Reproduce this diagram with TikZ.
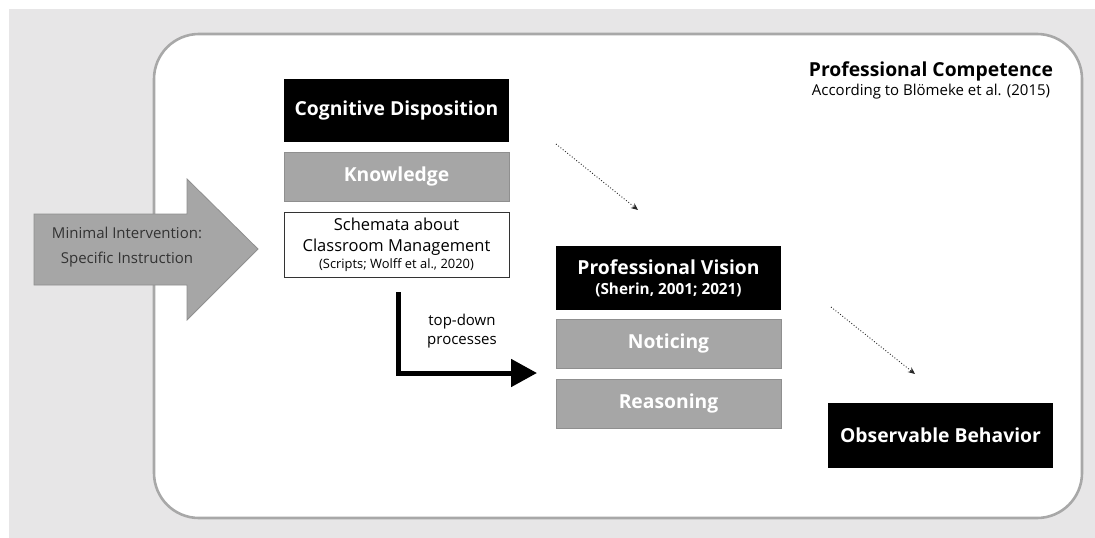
\documentclass[tikz,border=0pt]{standalone}
\usepackage{fontspec}
\setmainfont{Open Sans}
\usetikzlibrary{arrows.meta}
\definecolor{pagegray}{HTML}{E7E6E7}
\definecolor{framegray}{HTML}{A8A8A8}
\definecolor{boxgray}{HTML}{A6A6A6}
\definecolor{boxedge}{HTML}{8F8F8F}
\tikzset{
  boldtext/.style={font=\bfseries\fontsize{19.3}{22}\selectfont},
  plaintext/.style={font=\fontsize{15}{24}\selectfont},
  darkbox/.style={boldtext, draw=none, fill=black, text=white,
    minimum width=225pt, align=center, inner sep=0pt},
  graybox/.style={boldtext, draw=boxedge, line width=0.8pt, fill=boxgray, text=white,
    minimum width=225pt, minimum height=49pt, inner sep=0pt},
  plainbox/.style={draw=black!80, line width=0.8pt, fill=white, minimum width=225pt,
    minimum height=65pt, align=center, inner sep=0pt},
  dotlink/.style={dotted, line width=0.9pt, black!85, -{Stealth[length=7pt, width=6pt]}},
}
\begin{document}
\begin{tikzpicture}[x=1pt, y=-1pt]
\useasboundingbox (0,0) rectangle (1095,538);
% backdrop and rounded frame
\fill[pagegray] (9,9) rectangle (1095,538);
\draw[framegray, line width=2.6pt, fill=white, rounded corners=45pt] (154,34) rectangle (1082,518);

% title
\node[boldtext] (title) at (931,71) {Professional Competence};
\node[font=\fontsize{15}{18}\selectfont] (subtitle) at (931,92) {According to Blömeke et al. (2015)};

% intervention block arrow
\draw[boxedge, line width=0.8pt, fill=boxgray]
  (34,214) -- (187,214) -- (187,179) -- (258,249) -- (187,320) -- (187,285) -- (34,285) -- cycle;
\node[plaintext, align=center, text=black!80] (intervention) at (127,247)
  {Minimal Intervention:\\[1pt]Specific Instruction};

% cognitive disposition column
\node[darkbox, minimum height=63pt] (cog) at (396.5,110.5) {Cognitive Disposition};
\node[graybox] (know) at (396.5,176.5) {Knowledge};
\node[plainbox, font=\fontsize{16.5}{21}\selectfont] (schema) at (396.5,244.5)
  {Schemata about\\Classroom Management\\[-4pt]
   {\fontsize{12.9}{15}\selectfont (Scripts; Wolff et al., 2020)}};

% professional vision column
\node[darkbox, minimum height=64pt] (vision) at (668.5,278)
  {Professional Vision\\[-2pt]{\fontsize{15.3}{18}\selectfont (Sherin, 2001; 2021)}};
\node[graybox] (notice) at (668.5,343.5) {Noticing};
\node[graybox] (reason) at (668.5,403.5) {Reasoning};

% behaviour
\node[darkbox, minimum height=65pt] (behav) at (940.5,435.5) {Observable Behavior};

% top-down processes
\coordinate (tdstart) at (398.5,292);
\coordinate (tdend) at (537,373);
\draw[line width=5pt, line join=miter, -{Triangle[length=26pt, width=27pt]}]
  (tdstart) |- (tdend);
\node[align=center, font=\fontsize{15}{19}\selectfont] (tdlabel) at (462,331) {top-down\\processes};

% dotted links
\coordinate (d1a) at (556,144);
\coordinate (d1b) at (638,210);
\coordinate (d2a) at (831,307);
\coordinate (d2b) at (915,374);
\draw[dotlink] (d1a) -- (d1b);
\draw[dotlink] (d2a) -- (d2b);
\end{tikzpicture}
\end{document}
